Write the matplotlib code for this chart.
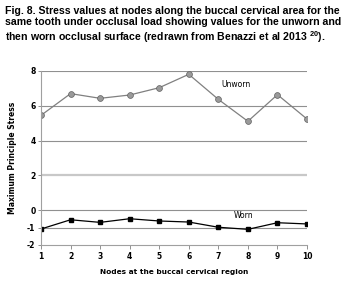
import matplotlib.pyplot as plt

plt.rcParams['mathtext.fontset'] = 'custom'
plt.rcParams['mathtext.rm'] = 'Liberation Sans:bold'
plt.rcParams['mathtext.bf'] = 'Liberation Sans:bold'
plt.rcParams['mathtext.default'] = 'rm'
plt.rcParams['axes.unicode_minus'] = False

nodes = [1, 2, 3, 4, 5, 6, 7, 8, 9, 10]
unworn = [5.45, 6.70, 6.43, 6.62, 7.04, 7.81, 6.37, 5.11, 6.64, 5.24]
worn = [-1.08, -0.55, -0.70, -0.49, -0.62, -0.68, -0.98, -1.10, -0.72, -0.79]
y_ticks = [8, 6, 4, 2, 0, -1, -2]

title = ("Fig. 8. Stress values at nodes along the buccal cervical area for the\n"
         "same tooth under occlusal load showing values for the unworn and\n"
         "then worn occlusal surface (redrawn from Benazzi et al 2013 $^{20}$).")

fig = plt.figure(figsize=(3.49, 2.93), dpi=100)
fig.text(0.015, 0.978, title, ha='left', va='top', fontsize=7.6,
         fontweight='bold', linespacing=1.12, family='Liberation Sans')

ax = fig.add_axes([41 / 349, 1 - 245 / 293, (307 - 41) / 349, (245 - 71) / 293])

# horizontal gridlines (the one at 2 is lighter and thicker)
for y in y_ticks:
    if y == 2:
        ax.axhline(y, color='#c8c8c8', lw=1.6, zorder=0)
    elif y != -2:
        ax.axhline(y, color='#909090', lw=0.8, zorder=0)

ax.plot(nodes, unworn, color='#808080', lw=0.9, marker='o', ms=4.2,
        mfc='#9a9a9a', mec='#606060', mew=0.5)
ax.plot(nodes, worn, color='black', lw=0.9, marker='s', ms=3.2,
        mfc='black', mec='black')

ax.text(7.09, 7.2, 'Unworn', fontsize=5.5, ha='left', va='center')
ax.text(7.51, -0.33, 'Worn', fontsize=5.5, ha='left', va='center')

ax.set_xlim(1, 10)
ax.set_ylim(-2, 8)
ax.set_xticks(nodes)
ax.set_yticks(y_ticks)
for lab in ax.get_xticklabels() + ax.get_yticklabels():
    lab.set_fontweight('bold')
ax.tick_params(axis='both', labelsize=5.5, length=3, width=0.6, color='#808080', pad=2)
ax.tick_params(axis='y', length=2)

for s in ['top', 'right']:
    ax.spines[s].set_visible(False)
ax.spines['left'].set_color('#a0a0a0')
ax.spines['bottom'].set_color('#a0a0a0')
ax.spines['left'].set_linewidth(0.8)
ax.spines['bottom'].set_linewidth(0.8)

ax.set_xlabel('Nodes at the buccal cervical region', fontsize=5.3, fontweight='bold', labelpad=6)
ax.set_ylabel('Maximum Principle Stress', fontsize=5.5, fontweight='bold', labelpad=7)

fig.savefig('out.png', dpi=100)
